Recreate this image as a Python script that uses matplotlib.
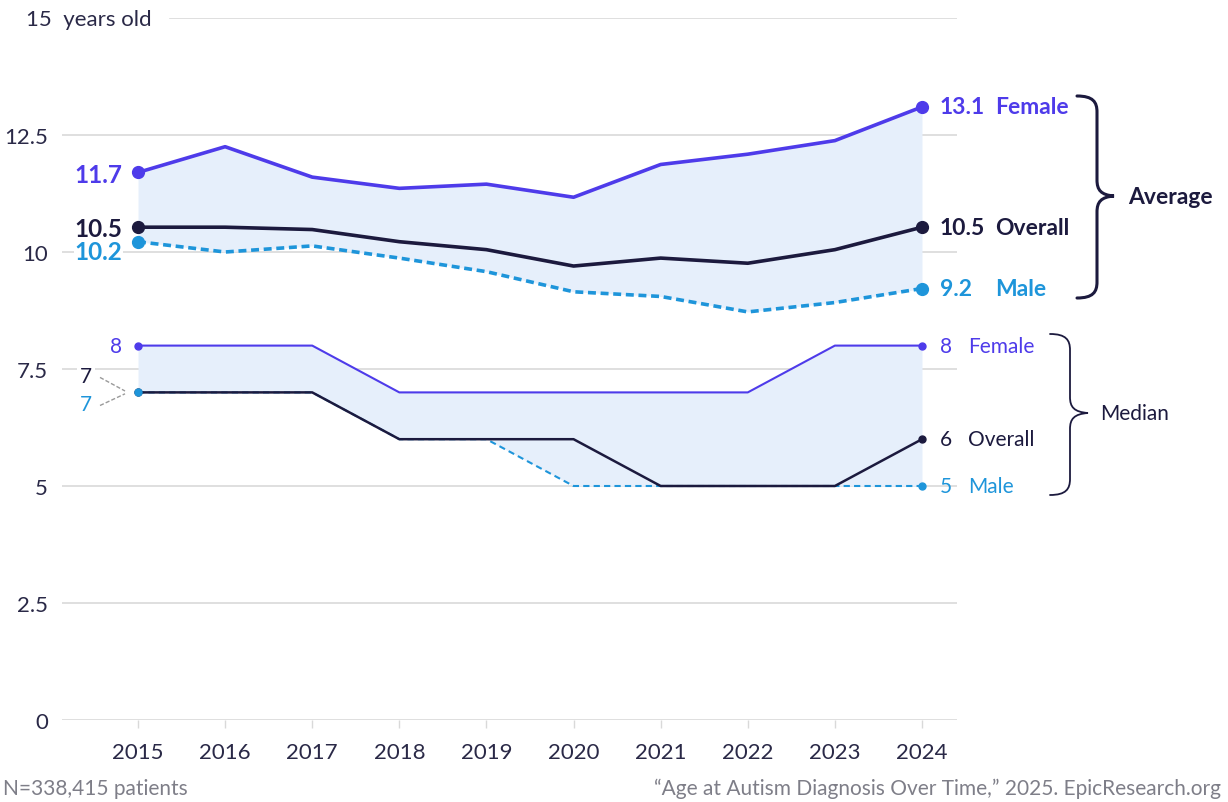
import matplotlib
matplotlib.use("Agg")
import matplotlib.pyplot as plt
from matplotlib.path import Path
from matplotlib.patches import PathPatch
import numpy as np

plt.rcParams['font.family'] = ['Lato', 'DejaVu Sans']

# data
years = [2015, 2016, 2017, 2018, 2019, 2020, 2021, 2022, 2023, 2024]
avg_female = [11.7, 12.25, 11.6, 11.36, 11.45, 11.17, 11.87, 12.09, 12.38, 13.1]
avg_overall = [10.53, 10.53, 10.48, 10.22, 10.05, 9.7, 9.87, 9.76, 10.05, 10.53]
avg_male = [10.22, 10.0, 10.13, 9.87, 9.58, 9.15, 9.05, 8.72, 8.92, 9.22]
med_female = [8, 8, 8, 7, 7, 7, 7, 7, 8, 8]
med_overall = [7, 7, 7, 6, 6, 6, 5, 5, 5, 6]
med_male = [7, 7, 7, 6, 6, 5, 5, 5, 5, 5]
yticks = [0, 2.5, 5, 7.5, 10, 12.5]
ytick_labels = ['0', '2.5', '5', '7.5', '10', '12.5']

c_fem = '#4E3BEA'
c_all = '#1C1A3E'
c_male = '#1E95DA'
c_fill = '#E6EFFB'
c_grid = '#D9D9D9'
c_text = '#2A2947'
c_foot = '#7E7E88'

W, H = 1228, 803
fig = plt.figure(figsize=(W / 100, H / 100), dpi=100)
ax = fig.add_axes([62 / W, 1 - 721 / H, (957 - 62) / W, (721 - 19) / H])
ax.set_xlim(2015 - 76 / 87.1, 2024 + 35 / 87.1)
ax.set_ylim(0, 15)
for s in ax.spines.values():
    s.set_visible(False)

# gridlines
for v in yticks:
    ax.axhline(v, color=c_grid, lw=1.2, zorder=0)
ax.axhline(15, xmin=(170 - 62) / (957 - 62), color=c_grid, lw=1.2, zorder=0)

ax.set_yticks(yticks)
ax.set_yticklabels(ytick_labels)
ax.tick_params(axis='y', length=0, pad=10, labelsize=16, labelcolor=c_text)
ax.set_xticks(years)
ax.set_xticklabels([str(y) for y in years])
ax.tick_params(axis='x', length=6, width=1, color=c_grid, pad=10, labelsize=16, labelcolor=c_text)

# fills
ax.fill_between(years, avg_female, avg_male, color=c_fill, lw=0, zorder=1)
ax.fill_between(years, med_female, np.minimum(med_overall, med_male), color=c_fill, lw=0, zorder=1)

# average lines
ax.plot(years, avg_male, color=c_male, lw=2.6, dashes=(2.2, 1.3), zorder=3)
ax.plot(years, avg_overall, color=c_all, lw=2.6, zorder=4)
ax.plot(years, avg_female, color=c_fem, lw=2.6, zorder=4)
for series, c in [(avg_female, c_fem), (avg_overall, c_all), (avg_male, c_male)]:
    ax.plot([years[0], years[-1]], [series[0], series[-1]], 'o', color=c, ms=8.5, zorder=5)

# median lines
ax.plot(years, med_male, color=c_male, lw=1.5, dashes=(3, 2), zorder=3)
ax.plot(years, med_overall, color=c_all, lw=1.8, zorder=4)
ax.plot(years, med_female, color=c_fem, lw=1.5, zorder=4)
for series, c in [(med_female, c_fem), (med_overall, c_all), (med_male, c_male)]:
    ax.plot([years[0], years[-1]], [series[0], series[-1]], 'o', color=c, ms=5, zorder=5)

# left labels
xl = years[0] - 16 / 87.1
ax.text(xl, avg_female[0] - 0.05, f'{avg_female[0]:.1f}', color=c_fem, fontsize=17.5, fontweight='bold',
        ha='right', va='center')
ax.text(xl, 10.5, '10.5', color=c_all, fontsize=17.5, fontweight='bold', ha='right', va='center', zorder=6)
ax.text(xl, 10.02, '10.2', color=c_male, fontsize=17.5, fontweight='bold', ha='right', va='center', zorder=5,
        bbox=dict(facecolor='white', edgecolor='none', pad=0.5))
ax.text(xl, med_female[0], '8', color=c_fem, fontsize=15, ha='right', va='center')
x7 = years[0] - 46 / 87.1
ax.text(x7, 7.35, '7', color=c_all, fontsize=15, ha='right', va='center',
        bbox=dict(facecolor='white', edgecolor='none', pad=2))
ax.text(x7, 6.75, '7', color=c_male, fontsize=15, ha='right', va='center')
xa, xb = years[0] - 38 / 87.1, years[0] - 13 / 87.1
ax.plot([xa, xb], [7.32, 7.03], color='#9A9A9A', lw=1, dashes=(3, 1.5))
ax.plot([xa, xb], [6.72, 6.97], color='#9A9A9A', lw=1, dashes=(3, 1.5))

# right labels
xn = years[-1] + 18 / 87.1
xname = years[-1] + 73 / 87.1
for v, name, c in [(avg_female[-1], 'Female', c_fem), (avg_overall[-1], 'Overall', c_all), (avg_male[-1], 'Male', c_male)]:
    ax.text(xn, v, f'{v:.1f}', color=c, fontsize=16.5, fontweight='bold', ha='left', va='center', clip_on=False)
    ax.text(xname, v, name, color=c, fontsize=16.5, fontweight='bold', ha='left', va='center', clip_on=False)
xname2 = years[-1] + 46 / 87.1
for v, name, c in [(med_female[-1], 'Female', c_fem), (med_overall[-1], 'Overall', c_all), (med_male[-1], 'Male', c_male)]:
    ax.text(xn, v, f'{v}', color=c, fontsize=15, ha='left', va='center', clip_on=False)
    ax.text(xname2, v, name, color=c, fontsize=15, ha='left', va='center', clip_on=False)

# overlay in pixel coordinates for braces and footer
ov = fig.add_axes([0, 0, 1, 1])
ov.set_xlim(0, W)
ov.set_ylim(H, 0)
ov.axis('off')
ov.patch.set_alpha(0)


def brace(x0, xv, xt, ytop, ymid, ybot, lw):
    r = 16
    verts = [(x0, ytop), (x0 + (xv - x0) * 0.8, ytop), (xv, ytop + 6), (xv, ytop + r),
             (xv, ymid - r),
             (xv, ymid - 6), (xv + 4, ymid - 1), (xt, ymid),
             (xv + 4, ymid + 1), (xv, ymid + 6), (xv, ymid + r),
             (xv, ybot - r),
             (xv, ybot - 6), (x0 + (xv - x0) * 0.8, ybot), (x0, ybot)]
    codes = [Path.MOVETO, Path.CURVE4, Path.CURVE4, Path.CURVE4,
             Path.LINETO,
             Path.CURVE4, Path.CURVE4, Path.CURVE4,
             Path.CURVE4, Path.CURVE4, Path.CURVE4,
             Path.LINETO,
             Path.CURVE4, Path.CURVE4, Path.CURVE4]
    ov.add_patch(PathPatch(Path(verts, codes), fill=False, edgecolor=c_all, lw=lw, capstyle='round'))


brace(1077, 1097, 1114, 97, 197, 299, 2.2)
brace(1050, 1070, 1088, 335, 414, 496, 1.3)
ov.text(1128, 197, 'Average', color=c_all, fontsize=16.5, fontweight='bold', ha='left', va='center')
ov.text(1100, 414, 'Median', color=c_all, fontsize=15, ha='left', va='center')

ov.text(26, 20, '15  years old', color=c_text, fontsize=16, ha='left', va='center')
ov.text(3, 789, 'N=338,415 patients', color=c_foot, fontsize=15, ha='left', va='center')
ov.text(1221, 789, '\u201cAge at Autism Diagnosis Over Time,\u201d 2025. EpicResearch.org', color=c_foot,
        fontsize=15, ha='right', va='center')

fig.savefig('out.png', dpi=100)
